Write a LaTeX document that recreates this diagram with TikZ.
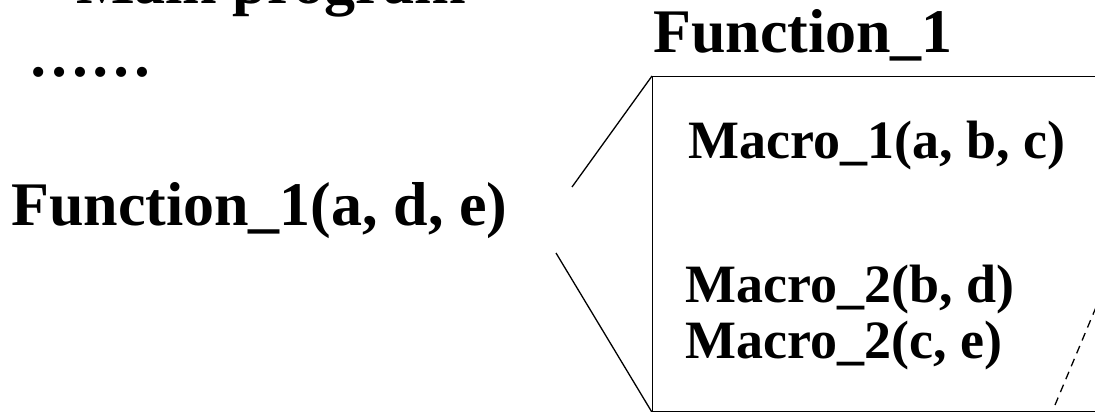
\documentclass[tikz,border=0pt]{standalone}
\usepackage{fontspec}
\setmainfont{Liberation Serif}
\usetikzlibrary{positioning}
\tikzset{
  bigtxt/.style={font=\fontsize{62}{68}\selectfont\bfseries, anchor=base west, inner sep=0pt},
  mactxt/.style={font=\fontsize{54}{60}\selectfont\bfseries, anchor=base west, inner sep=0pt},
  fnbox/.style={draw, line width=1.3pt, anchor=north west, minimum width=600pt, minimum height=335pt, inner sep=0pt},
  zoomln/.style={draw, line width=1.3pt},
  nextln/.style={draw, line width=1.3pt, dashed, dash pattern=on 8pt off 6pt},
}

\begin{document}
\begin{tikzpicture}[x=1pt, y=-1pt]
\useasboundingbox (0,0) rectangle (1095,412);
\clip (0,0) rectangle (1095,412);

% Main program
\node[bigtxt] (main) at (76,4) {Main program};
\node[bigtxt] (dots) at (28,77) {……};
\node[bigtxt] (call) at (11,225) {Function\_1(a, d, e)};

% Function body
\node[bigtxt] (ftitle) at (653,53) {Function\_1};
\node[fnbox] (fbody) at (652,76) {};
\node[mactxt] (mac1) at (688,158) {Macro\_1(a, b, c)};
\node[mactxt] (mac2) at (685,302) {Macro\_2(b, d)};
\node[mactxt] (mac3) at (685,358) {Macro\_2(c, e)};

% Zoom lines
\coordinate (zup) at (572,187);
\coordinate (zlo) at (556,253);
\draw[zoomln] (zup) -- (fbody.north west);
\draw[zoomln] (zlo) -- (fbody.south west);

% Next expansion
\coordinate (nlo) at (1055,405);
\coordinate (nup) at (1120,250);
\draw[nextln] (nlo) -- (nup);

\end{tikzpicture}
\end{document}
